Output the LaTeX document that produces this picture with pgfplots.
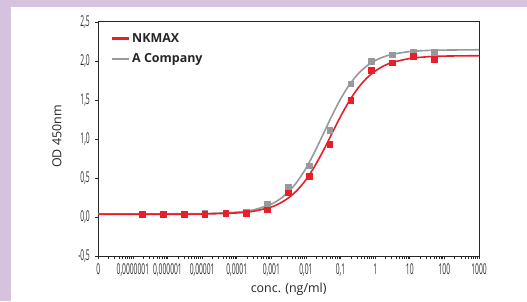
\documentclass[border=0pt]{standalone}
\usepackage{fontspec}
\setmainfont{Open Sans}
\newfontfamily\narrowfont[FakeStretch=0.45]{Open Sans}
\usepackage{pgfplots}
\pgfplotsset{compat=1.18}
\definecolor{bgpurple}{RGB}{213,194,222}
\definecolor{nkred}{RGB}{232,30,40}
\definecolor{cgray}{RGB}{153,153,155}
\definecolor{axcol}{RGB}{40,40,40}
\begin{document}
\begin{tikzpicture}[x=1bp,y=1bp]
\fill[bgpurple] (0,0) rectangle (527,301);
\fill[white] (11,0) rectangle (527,294);
\begin{axis}[at={(98.3bp,45bp)}, anchor=south west, scale only axis,
  width=380.7bp, height=234bp,
  xmode=log, xmin=1e-8, xmax=1e3, ymin=-0.5, ymax=2.5,
  xtick={1e-8,1e-7,1e-6,1e-5,1e-4,1e-3,1e-2,1e-1,1,10,100,1000},
  xticklabels={0,{0,0000001},{0,000001},{0,00001},{0,0001},{0,001},{0,01},{0,1},1,10,100,1000},
  minor xtick={},
  ytick={-0.5,0,0.5,1,1.5,2,2.5},
  tick label style={font=\narrowfont\fontsize{15}{15}\selectfont, text=axcol},
  yticklabel style={xshift=-2bp, /pgf/number format/use comma, /pgf/number format/fixed,
    /pgf/number format/fixed zerofill, /pgf/number format/precision=1,
    /pgf/number format/assume math mode=true},
  xticklabel style={yshift=-1.5bp},
  tick align=outside, xtick pos=bottom, ytick pos=left, major tick length=3bp,
  axis line style={axcol, line width=1bp}, tick style={axcol, line width=0.8bp},
  xlabel={conc. (ng/ml)}, ylabel={OD 450nm},
  label style={font=\fontsize{12.5}{14}\selectfont, text=black!85},
  xlabel style={at={(axis description cs:0.5,0)}, anchor=center, yshift=-33bp},
  ylabel style={at={(axis description cs:-0.109,0.51)}, anchor=center},
  legend style={draw=none, fill=none, at={(0.025,0.97)}, anchor=north west,
    font=\fontseries{sb}\bfseries\fontsize{12.5}{14}\selectfont, row sep=6bp, text=black!85},
  legend cell align=left,
  legend image code/.code={\draw[#1, line width=2.2bp] (0bp,0bp) -- (17bp,0bp);},
]
\addlegendimage{nkred}
\addlegendentry{NKMAX}
\addlegendimage{cgray}
\addlegendentry{A Company}
% A Company fitted curve
\addplot[cgray, line width=1.6bp, smooth, forget plot] coordinates {
(1e-8,0.040) (1e-6,0.041) (1e-5,0.044) (1e-4,0.062) (3.162e-4,0.093) (1e-3,0.166)
(1.778e-3,0.231) (3.162e-3,0.325) (5.623e-3,0.455) (1e-2,0.625) (1.778e-2,0.833)
(3.162e-2,1.064) (5.623e-2,1.298) (0.1,1.513) (0.1778,1.693) (0.3162,1.832)
(0.5623,1.934) (1,2.006) (1.778,2.054) (3.162,2.086) (10,2.121) (31.62,2.135)
(100,2.140) (1000,2.144)};
\addplot[only marks, mark=square*, mark size=2.8bp, cgray, forget plot] coordinates {
(1.863e-7,0.04) (7.451e-7,0.04) (2.98e-6,0.04) (1.192e-5,0.045) (4.768e-5,0.05)
(1.907e-4,0.06) (7.629e-4,0.17) (0.003052,0.38) (0.01221,0.66) (0.04883,1.11)
(0.1953,1.71) (0.78125,2.0) (3.125,2.08) (12.5,2.11) (50,2.115)};
% NKMAX fitted curve
\addplot[nkred, line width=1.6bp, smooth, forget plot] coordinates {
(1e-8,0.035) (1e-6,0.035) (1e-5,0.038) (1e-4,0.052) (3.162e-4,0.075) (1e-3,0.129)
(1.778e-3,0.177) (3.162e-3,0.247) (5.623e-3,0.345) (1e-2,0.478) (1.778e-2,0.649)
(3.162e-2,0.850) (5.623e-2,1.070) (0.1,1.289) (0.1778,1.486) (0.3162,1.650)
(0.5623,1.778) (1,1.871) (1.778,1.937) (3.162,1.982) (10,2.032) (31.62,2.054)
(100,2.063) (1000,2.068)};
\addplot[only marks, mark=square*, mark size=2.8bp, nkred, forget plot] coordinates {
(1.863e-7,0.034) (7.451e-7,0.034) (2.98e-6,0.034) (1.192e-5,0.034) (4.768e-5,0.047)
(1.907e-4,0.047) (7.629e-4,0.094) (0.003052,0.31) (0.01221,0.52) (0.04883,0.93)
(0.1953,1.50) (0.78125,1.885) (3.125,1.98) (12.5,2.06) (50,2.02)};
\end{axis}
\end{tikzpicture}
\end{document}
